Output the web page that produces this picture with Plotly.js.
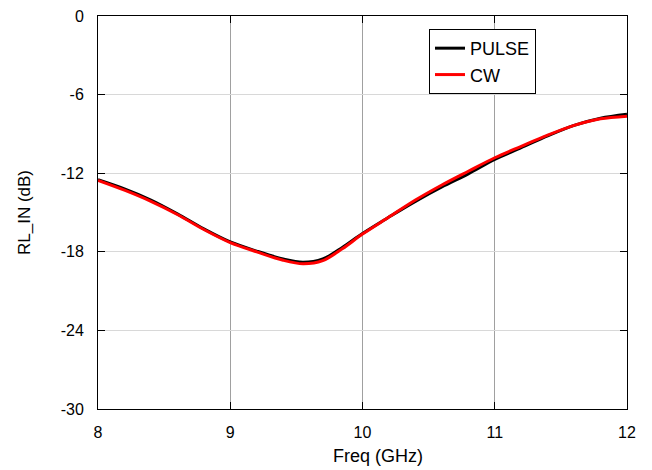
<!DOCTYPE html>
<html>
<head>
<meta charset="utf-8">
<script src="https://cdn.plot.ly/plotly-3.0.1.min.js"></script>
<style>html,body{margin:0;padding:0;background:#fff}#chart{width:652px;height:470px}</style>
</head>
<body>
<div id="chart"></div>
<script>
const freq = [8.0, 8.2, 8.4, 8.6, 8.8, 9.0, 9.2, 9.4, 9.55, 9.7, 9.85, 10.0, 10.2, 10.4, 10.6, 10.8, 11.0, 11.2, 11.4, 11.6, 11.8, 12.0];
const pulse = [-12.5, -13.2, -14.05, -15.1, -16.25, -17.25, -17.95, -18.55, -18.8, -18.55, -17.65, -16.6, -15.35, -14.15, -13.05, -12.05, -10.95, -10.05, -9.15, -8.35, -7.8, -7.5];
const cw = [-12.55, -13.3, -14.15, -15.15, -16.3, -17.3, -18.0, -18.65, -18.92, -18.68, -17.75, -16.65, -15.35, -14.05, -12.9, -11.85, -10.82, -9.95, -9.1, -8.35, -7.85, -7.65];
const xTicks = [8, 9, 10, 11, 12];
const xTickText = ['8', '9', '10', '11', '12'];
const yTicks = [0, -6, -12, -18, -24, -30];
const yTickText = ['0', '-6', '-12', '-18', '-24', '-30'];
const xTitle = 'Freq (GHz)';
const yTitle = 'RL_IN (dB)';

const font = 'Liberation Sans, Arial, sans-serif';
const traces = [
  {x: freq, y: pulse, name: 'PULSE', mode: 'lines', line: {color: '#000000', width: 3, shape: 'spline', smoothing: 0.9}},
  {x: freq, y: cw, name: 'CW', mode: 'lines', line: {color: '#ff0000', width: 3, shape: 'spline', smoothing: 0.9}}
];
const layout = {
  width: 652, height: 470,
  margin: {l: 98, r: 25, t: 16, b: 61},
  paper_bgcolor: '#fff', plot_bgcolor: '#fff',
  font: {family: font, size: 16, color: '#000'},
  showlegend: true,
  legend: {x: 0.6257, y: 0.967, xanchor: 'left', yanchor: 'top', bordercolor: '#000', borderwidth: 1,
           bgcolor: '#fff', font: {family: font, size: 18, color: '#000'}, tracegroupgap: 0},
  annotations: [
    {text: xTitle, xref: 'paper', yref: 'paper', x: 0.529, y: -0.1196, xanchor: 'center', yanchor: 'middle',
     showarrow: false, font: {family: font, size: 18, color: '#000'}}
  ],
  xaxis: {
    range: [8, 12], tickvals: xTicks, ticktext: xTickText,
    showline: true, linecolor: '#000', linewidth: 1, mirror: 'ticks',
    ticks: 'inside', ticklen: 7, tickcolor: '#000', tickwidth: 1,
    showgrid: true, gridcolor: '#a0a0a0', gridwidth: 1, zeroline: false,
    ticklabelstandoff: 9,
    tickfont: {family: font, size: 16}
  },
  yaxis: {
    range: [-30, 0], tickvals: yTicks, ticktext: yTickText,
    showline: true, linecolor: '#000', linewidth: 1, mirror: 'ticks',
    ticks: 'inside', ticklen: 7, tickcolor: '#000', tickwidth: 1,
    showgrid: true, gridcolor: '#d8d8d8', gridwidth: 1, zeroline: false,
    ticklabelstandoff: 10,
    tickfont: {family: font, size: 16},
    title: {text: yTitle, font: {family: font, size: 17}, standoff: 25}
  }
};
Plotly.newPlot('chart', traces, layout, {displayModeBar: false, staticPlot: true});
</script>
</body>
</html>
